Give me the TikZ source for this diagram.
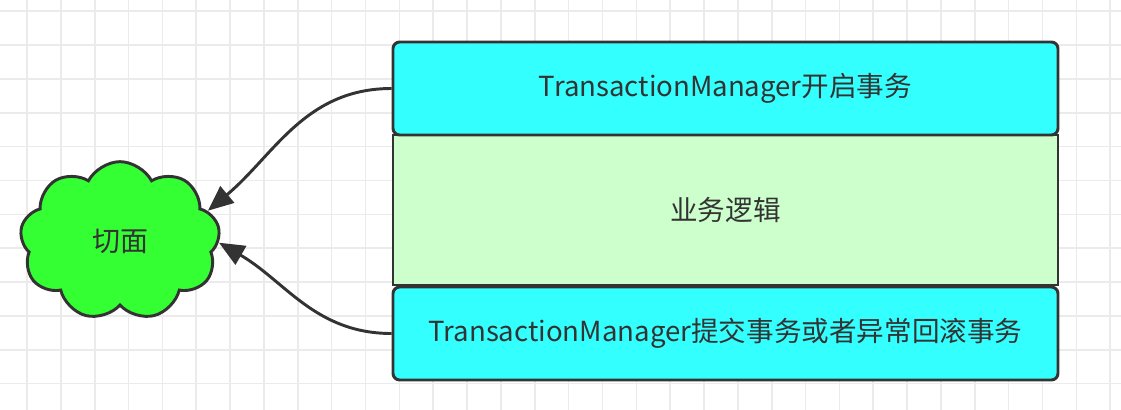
\documentclass[tikz,border=0pt]{standalone}
\usepackage{fontspec}
\setmainfont{Noto Sans CJK SC}
\usetikzlibrary{shapes.symbols,arrows.meta}
\definecolor{cyanfill}{HTML}{33FFFF}
\definecolor{greenfill}{HTML}{CCFFCC}
\definecolor{cloudfill}{HTML}{33FF33}
\definecolor{ink}{HTML}{333333}
\definecolor{gridc}{HTML}{EBEBEB}
\tikzset{
  gridline/.style={draw=gridc, line width=1.2pt},
  box/.style={draw=ink, line width=2.2pt, minimum width=498.75pt, text=ink, font=\fontsize{20.7}{24}\selectfont, inner sep=0pt},
  cyanbox/.style={box, fill=cyanfill, rounded corners=5pt, minimum height=69.75pt},
  greenbox/.style={box, fill=greenfill, minimum height=112.5pt},
  cloudnode/.style={cloud, cloud puffs=9, cloud puff arc=125, aspect=1.27, minimum width=150pt, minimum height=119pt, fill=cloudfill, draw=ink, line width=2.2pt, text=ink, font=\fontsize{21}{24}\selectfont, inner sep=0pt},
  conn/.style={draw=ink, line width=2.2pt, -{Triangle[length=19pt,width=16pt]}}
}
\begin{document}
\begin{tikzpicture}[x=0.75pt,y=-0.75pt]
\useasboundingbox (0,0) rectangle (1121,410);
\fill[white] (0,0) rectangle (1121,410);
\foreach \i in {0,...,32} \draw[gridline] ({27+33.85*\i},0) -- ({27+33.85*\i},410);
\foreach \j in {0,...,11} \draw[gridline] (0,{11.2+33.85*\j}) -- (1121,{11.2+33.85*\j});
\node[greenbox] (m) at (725.5,210) {业务逻辑};
\node[cyanbox] (t) at (725.5,88.5) {TransactionManager开启事务};
\node[cyanbox] (b) at (725.5,333.5) {TransactionManager提交事务或者异常回滚事务};
\node[cloudnode] (c) at (120,241) {切面};
\draw[conn] (t.west) to[out=180,in=40] (c.19);
\draw[conn] (b.west) to[out=180,in=-30] (c.-1);
\end{tikzpicture}
\end{document}
